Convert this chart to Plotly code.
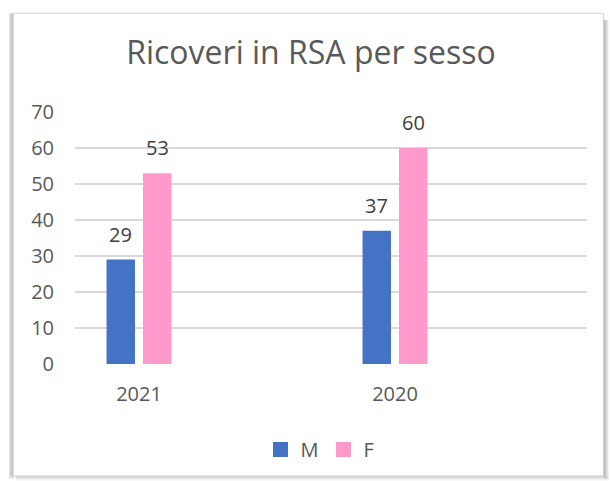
import plotly.graph_objects as go

categories = ["2021", "2020"]
series_names = ["M", "F"]
values_m = [29, 37]
values_f = [53, 60]
y_ticks = [0, 10, 20, 30, 40, 50, 60, 70]
title_text = "Ricoveri in RSA per sesso"

colors = {"M": "#4472C4", "F": "#FF99CC"}
FONT = "Open Sans"

# plot area in pixels
L, R, T, B = 75, 587, 112.3, 364.5
W, H = 610, 481


def px(p):
    return (p - L) / (R - L)


def py(p):
    return (B - p) / (B - T)


fig = go.Figure()
for name, vals in zip(series_names, [values_m, values_f]):
    fig.add_trace(go.Bar(
        x=categories, y=vals, name=name, showlegend=False,
        marker=dict(color=colors[name], line=dict(width=0)),
    ))
# legend entries with square swatches
for name in series_names:
    fig.add_trace(go.Scatter(
        x=[None], y=[None], mode="markers", name=name,
        marker=dict(symbol="square", size=15, color=colors[name]),
    ))

# data labels
offsets = {"M": -18.25, "F": 18.25}
annotations = []
for name, vals in zip(series_names, [values_m, values_f]):
    for i, v in enumerate(vals):
        annotations.append(dict(
            x=i, y=v, xref="x", yref="y", text=str(v), showarrow=False,
            xshift=offsets[name], yshift=10, yanchor="bottom",
            font=dict(family=FONT, size=20, color="#404040"),
        ))

shapes = []
# main border
shapes.append(dict(type="rect", xref="paper", yref="paper",
                   x0=px(11.5), x1=px(603.5), y0=py(476.5), y1=py(13.5),
                   line=dict(color="#d0d0d0", width=1)))
# left shadow band
for xp, col in [(9.5, "#e4e4e4"), (10.5, "#d2d2d2"), (12.5, "#c4c4c4"), (13.5, "#dedede")]:
    shapes.append(dict(type="line", xref="paper", yref="paper",
                       x0=px(xp), x1=px(xp), y0=py(479), y1=py(14),
                       line=dict(color=col, width=1)))
# right shadow band
for xp, col in [(604.5, "#bcbcbc"), (605.5, "#c8c8c8"), (606.5, "#d6d6d6"), (607.5, "#e6e6e6"), (608.5, "#f2f2f2")]:
    shapes.append(dict(type="line", xref="paper", yref="paper",
                       x0=px(xp), x1=px(xp), y0=py(480), y1=py(20),
                       line=dict(color=col, width=1)))
# bottom shadow band
for yp, col in [(477.5, "#c4c4c4"), (478.5, "#d2d2d2"), (479.5, "#e2e2e2"), (480.5, "#f0f0f0")]:
    shapes.append(dict(type="line", xref="paper", yref="paper",
                       x0=px(16), x1=px(608), y0=py(yp), y1=py(yp),
                       line=dict(color=col, width=1)))

fig.update_layout(
    width=W, height=H,
    margin=dict(l=L, r=W - R, t=T, b=H - B, pad=0),
    paper_bgcolor="white", plot_bgcolor="white",
    barmode="group", bargap=0.715, bargroupgap=0.22,
    title=dict(text=title_text, x=311 / W, xref="container", xanchor="center",
               y=1 - 53 / H, yref="container", yanchor="middle",
               font=dict(family=FONT, size=32, color="#595959")),
    xaxis=dict(type="category", range=[-0.25, 1.75], showgrid=False,
               showline=False, zeroline=False, ticks="",
               ticklabelstandoff=16,
               tickfont=dict(family=FONT, size=20, color="#595959")),
    yaxis=dict(range=[0, 70], tickvals=y_ticks, showgrid=True,
               gridcolor="#d9d9d9", gridwidth=1.5, zeroline=False,
               showline=False, ticks="", ticklabelstandoff=20,
               tickfont=dict(family=FONT, size=20, color="#595959")),
    legend=dict(orientation="h", x=px(320), xanchor="center",
                y=py(450), yanchor="middle",
                font=dict(family=FONT, size=20, color="#595959"),
                itemwidth=30, traceorder="normal"),
    annotations=annotations,
    shapes=shapes,
    showlegend=True,
)

fig.write_html("out.html", config={"displayModeBar": False},
               post_script="document.body.style.margin='0';document.body.style.padding='0';")
